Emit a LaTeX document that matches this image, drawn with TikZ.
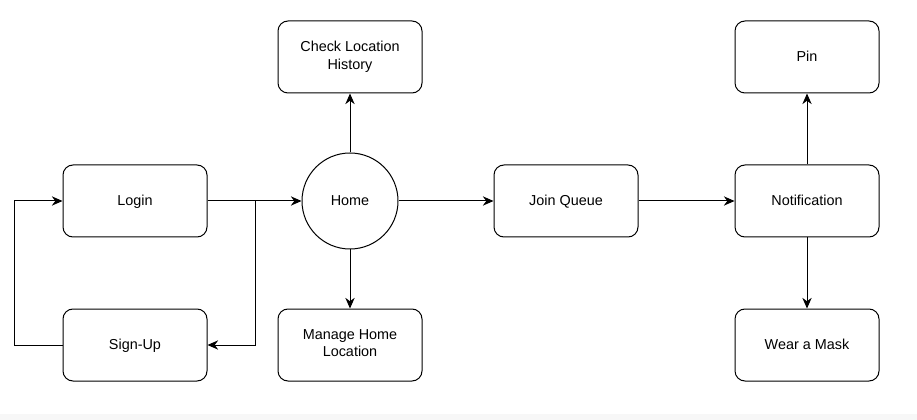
\documentclass[tikz,border=0pt]{standalone}
\usepackage{fontspec}
\setmainfont{Liberation Sans}
\usetikzlibrary{arrows.meta}
\newcommand{\boxstrut}{\rule[-2.6pt]{0pt}{12.6pt}}

\begin{document}
\begin{tikzpicture}[font=\fontsize{10.8}{13}\selectfont, node distance={108pt}, line width=0.75pt, >={Stealth[length=8pt, width=7pt]}, box/.style = {draw, rounded corners=7.5pt, minimum width=108pt, minimum height=54pt, align=center, inner sep=0pt, execute at begin node=\boxstrut, execute at end node=\boxstrut}, hub/.style = {draw, circle, minimum size=72pt, inner sep=0pt, execute at begin node=\boxstrut}]
                    \useasboundingbox (0,0) rectangle (687.75pt,-315pt);
                    \fill[black!3] (0,-310.5pt) rectangle (687.75pt,-315pt);
                    \node[box] (login) at (101.25pt,-150.75pt) {Login};
                    \node[box] (signup) [below of=login] {Sign-Up};
                    \node[hub] (home) [right of=login, node distance=161.25pt] {Home};
                    \node[box] (history) [above of=home] {Check Location\\History};
                    \node[box] (homeloc) [below of=home] {Manage Home\\Location};
                    \node[box] (queue) [right of=home, node distance=162pt] {Join Queue};
                    \node[box] (notif) [right of=queue, node distance=180.75pt] {Notification};
                    \node[box] (pin) [above of=notif] {Pin};
                    \node[box] (mask) [below of=notif] {Wear a Mask};
                    \draw[->] (login) -- (home);
                    \draw[->] (login.east) -- ++(36pt,0) |- (signup.east);
                    \draw[->] (signup.west) -- ++(-36pt,0) |- (login.west);
                    \draw[->] (home) -- (history);
                    \draw[->] (home) -- (homeloc);
                    \draw[->] (home) -- (queue);
                    \draw[->] (queue) -- (notif);
                    \draw[->] (notif) -- (pin);
                    \draw[->] (notif) -- (mask);
                \end{tikzpicture}
\end{document}
